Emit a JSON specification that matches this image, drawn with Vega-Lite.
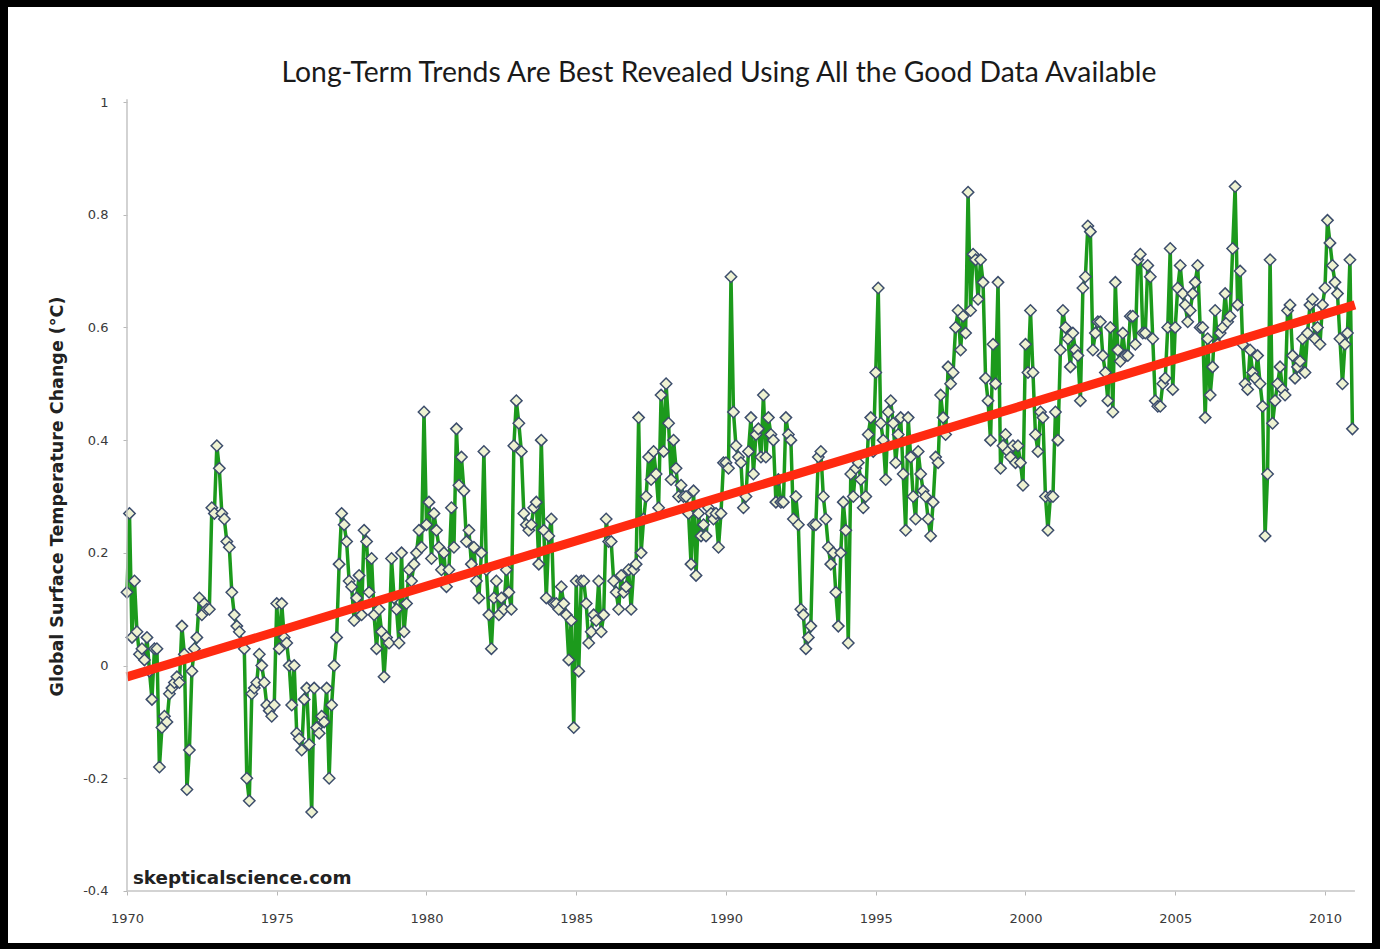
{
  "$schema": "https://vega.github.io/schema/vega-lite/v6.json",
  "width": 1364,
  "height": 936,
  "autosize": "none",
  "padding": {"left": 8, "top": 7, "right": 8, "bottom": 6},
  "background": "black",
  "config": {"view": {"fill": "white", "stroke": null}, "font": "DejaVu Sans"},
  "title": {
    "text": "Long-Term Trends Are Best Revealed Using All the Good Data Available",
    "font": "Lato", "fontSize": 28.3, "fontWeight": "normal", "color": "#1a1a1a",
    "anchor": "middle", "frame": "group", "baseline": "top", "offset": -81, "dx": 29
  },
  "datasets": {
    "temps": [
      {"t":1970,"v":0.13},{"t":1970.083,"v":0.27},{"t":1970.167,"v":0.05},{"t":1970.25,"v":0.15},{"t":1970.333,"v":0.06},{"t":1970.417,"v":0.02},{"t":1970.5,"v":0.03},{"t":1970.583,"v":0.01},{"t":1970.667,"v":0.05},{"t":1970.75,"v":-0.01},{"t":1970.833,"v":-0.06},{"t":1970.917,"v":0.03},
      {"t":1971,"v":0.03},{"t":1971.083,"v":-0.18},{"t":1971.167,"v":-0.11},{"t":1971.25,"v":-0.09},{"t":1971.333,"v":-0.1},{"t":1971.417,"v":-0.05},{"t":1971.5,"v":-0.04},{"t":1971.583,"v":-0.03},{"t":1971.667,"v":-0.02},{"t":1971.75,"v":-0.03},{"t":1971.833,"v":0.07},{"t":1971.917,"v":0.02},
      {"t":1972,"v":-0.22},{"t":1972.083,"v":-0.15},{"t":1972.167,"v":-0.01},{"t":1972.25,"v":0.03},{"t":1972.333,"v":0.05},{"t":1972.417,"v":0.12},{"t":1972.5,"v":0.09},{"t":1972.583,"v":0.11},{"t":1972.667,"v":0.1},{"t":1972.75,"v":0.1},{"t":1972.833,"v":0.28},{"t":1972.917,"v":0.27},
      {"t":1973,"v":0.39},{"t":1973.083,"v":0.35},{"t":1973.167,"v":0.27},{"t":1973.25,"v":0.26},{"t":1973.333,"v":0.22},{"t":1973.417,"v":0.21},{"t":1973.5,"v":0.13},{"t":1973.583,"v":0.09},{"t":1973.667,"v":0.07},{"t":1973.75,"v":0.06},{"t":1973.833,"v":0.04},{"t":1973.917,"v":0.03},
      {"t":1974,"v":-0.2},{"t":1974.083,"v":-0.24},{"t":1974.167,"v":-0.05},{"t":1974.25,"v":-0.04},{"t":1974.333,"v":-0.03},{"t":1974.417,"v":0.02},{"t":1974.5,"v":0.0},{"t":1974.583,"v":-0.03},{"t":1974.667,"v":-0.07},{"t":1974.75,"v":-0.08},{"t":1974.833,"v":-0.09},{"t":1974.917,"v":-0.07},
      {"t":1975,"v":0.11},{"t":1975.083,"v":0.03},{"t":1975.167,"v":0.11},{"t":1975.25,"v":0.05},{"t":1975.333,"v":0.04},{"t":1975.417,"v":0.0},{"t":1975.5,"v":-0.07},{"t":1975.583,"v":0.0},{"t":1975.667,"v":-0.12},{"t":1975.75,"v":-0.13},{"t":1975.833,"v":-0.15},{"t":1975.917,"v":-0.06},
      {"t":1976,"v":-0.04},{"t":1976.083,"v":-0.14},{"t":1976.167,"v":-0.26},{"t":1976.25,"v":-0.04},{"t":1976.333,"v":-0.11},{"t":1976.417,"v":-0.12},{"t":1976.5,"v":-0.09},{"t":1976.583,"v":-0.1},{"t":1976.667,"v":-0.04},{"t":1976.75,"v":-0.2},{"t":1976.833,"v":-0.07},{"t":1976.917,"v":0.0},
      {"t":1977,"v":0.05},{"t":1977.083,"v":0.18},{"t":1977.167,"v":0.27},{"t":1977.25,"v":0.25},{"t":1977.333,"v":0.22},{"t":1977.417,"v":0.15},{"t":1977.5,"v":0.14},{"t":1977.583,"v":0.08},{"t":1977.667,"v":0.12},{"t":1977.75,"v":0.16},{"t":1977.833,"v":0.09},{"t":1977.917,"v":0.24},
      {"t":1978,"v":0.22},{"t":1978.083,"v":0.13},{"t":1978.167,"v":0.19},{"t":1978.25,"v":0.09},{"t":1978.333,"v":0.03},{"t":1978.417,"v":0.1},{"t":1978.5,"v":0.06},{"t":1978.583,"v":-0.02},{"t":1978.667,"v":0.05},{"t":1978.75,"v":0.04},{"t":1978.833,"v":0.19},{"t":1978.917,"v":0.12},
      {"t":1979,"v":0.1},{"t":1979.083,"v":0.04},{"t":1979.167,"v":0.2},{"t":1979.25,"v":0.06},{"t":1979.333,"v":0.11},{"t":1979.417,"v":0.17},{"t":1979.5,"v":0.15},{"t":1979.583,"v":0.18},{"t":1979.667,"v":0.2},{"t":1979.75,"v":0.24},{"t":1979.833,"v":0.21},{"t":1979.917,"v":0.45},
      {"t":1980,"v":0.25},{"t":1980.083,"v":0.29},{"t":1980.167,"v":0.19},{"t":1980.25,"v":0.27},{"t":1980.333,"v":0.24},{"t":1980.417,"v":0.21},{"t":1980.5,"v":0.17},{"t":1980.583,"v":0.2},{"t":1980.667,"v":0.14},{"t":1980.75,"v":0.17},{"t":1980.833,"v":0.28},{"t":1980.917,"v":0.21},
      {"t":1981,"v":0.42},{"t":1981.083,"v":0.32},{"t":1981.167,"v":0.37},{"t":1981.25,"v":0.31},{"t":1981.333,"v":0.22},{"t":1981.417,"v":0.24},{"t":1981.5,"v":0.18},{"t":1981.583,"v":0.21},{"t":1981.667,"v":0.15},{"t":1981.75,"v":0.12},{"t":1981.833,"v":0.2},{"t":1981.917,"v":0.38},
      {"t":1982,"v":0.17},{"t":1982.083,"v":0.09},{"t":1982.167,"v":0.03},{"t":1982.25,"v":0.12},{"t":1982.333,"v":0.15},{"t":1982.417,"v":0.09},{"t":1982.5,"v":0.12},{"t":1982.583,"v":0.1},{"t":1982.667,"v":0.17},{"t":1982.75,"v":0.13},{"t":1982.833,"v":0.1},{"t":1982.917,"v":0.39},
      {"t":1983,"v":0.47},{"t":1983.083,"v":0.43},{"t":1983.167,"v":0.38},{"t":1983.25,"v":0.27},{"t":1983.333,"v":0.25},{"t":1983.417,"v":0.24},{"t":1983.5,"v":0.25},{"t":1983.583,"v":0.28},{"t":1983.667,"v":0.29},{"t":1983.75,"v":0.18},{"t":1983.833,"v":0.4},{"t":1983.917,"v":0.24},
      {"t":1984,"v":0.12},{"t":1984.083,"v":0.23},{"t":1984.167,"v":0.26},{"t":1984.25,"v":0.11},{"t":1984.333,"v":0.11},{"t":1984.417,"v":0.1},{"t":1984.5,"v":0.14},{"t":1984.583,"v":0.11},{"t":1984.667,"v":0.09},{"t":1984.75,"v":0.01},{"t":1984.833,"v":0.08},{"t":1984.917,"v":-0.11},
      {"t":1985,"v":0.15},{"t":1985.083,"v":-0.01},{"t":1985.167,"v":0.15},{"t":1985.25,"v":0.15},{"t":1985.333,"v":0.11},{"t":1985.417,"v":0.04},{"t":1985.5,"v":0.06},{"t":1985.583,"v":0.09},{"t":1985.667,"v":0.08},{"t":1985.75,"v":0.15},{"t":1985.833,"v":0.06},{"t":1985.917,"v":0.09},
      {"t":1986,"v":0.26},{"t":1986.083,"v":0.22},{"t":1986.167,"v":0.22},{"t":1986.25,"v":0.15},{"t":1986.333,"v":0.13},{"t":1986.417,"v":0.1},{"t":1986.5,"v":0.16},{"t":1986.583,"v":0.13},{"t":1986.667,"v":0.14},{"t":1986.75,"v":0.17},{"t":1986.833,"v":0.1},{"t":1986.917,"v":0.17},
      {"t":1987,"v":0.18},{"t":1987.083,"v":0.44},{"t":1987.167,"v":0.2},{"t":1987.25,"v":0.26},{"t":1987.333,"v":0.3},{"t":1987.417,"v":0.37},{"t":1987.5,"v":0.33},{"t":1987.583,"v":0.38},{"t":1987.667,"v":0.34},{"t":1987.75,"v":0.28},{"t":1987.833,"v":0.48},{"t":1987.917,"v":0.38},
      {"t":1988,"v":0.5},{"t":1988.083,"v":0.43},{"t":1988.167,"v":0.33},{"t":1988.25,"v":0.4},{"t":1988.333,"v":0.35},{"t":1988.417,"v":0.3},{"t":1988.5,"v":0.32},{"t":1988.583,"v":0.3},{"t":1988.667,"v":0.3},{"t":1988.75,"v":0.27},{"t":1988.833,"v":0.18},{"t":1988.917,"v":0.31},
      {"t":1989,"v":0.16},{"t":1989.083,"v":0.27},{"t":1989.167,"v":0.23},{"t":1989.25,"v":0.25},{"t":1989.333,"v":0.23},{"t":1989.417,"v":0.28},{"t":1989.5,"v":0.27},{"t":1989.583,"v":0.26},{"t":1989.667,"v":0.27},{"t":1989.75,"v":0.21},{"t":1989.833,"v":0.27},{"t":1989.917,"v":0.36},
      {"t":1990,"v":0.36},{"t":1990.083,"v":0.35},{"t":1990.167,"v":0.69},{"t":1990.25,"v":0.45},{"t":1990.333,"v":0.39},{"t":1990.417,"v":0.37},{"t":1990.5,"v":0.36},{"t":1990.583,"v":0.28},{"t":1990.667,"v":0.3},{"t":1990.75,"v":0.38},{"t":1990.833,"v":0.44},{"t":1990.917,"v":0.34},
      {"t":1991,"v":0.41},{"t":1991.083,"v":0.42},{"t":1991.167,"v":0.37},{"t":1991.25,"v":0.48},{"t":1991.333,"v":0.37},{"t":1991.417,"v":0.44},{"t":1991.5,"v":0.41},{"t":1991.583,"v":0.4},{"t":1991.667,"v":0.29},{"t":1991.75,"v":0.33},{"t":1991.833,"v":0.29},{"t":1991.917,"v":0.29},
      {"t":1992,"v":0.44},{"t":1992.083,"v":0.41},{"t":1992.167,"v":0.4},{"t":1992.25,"v":0.26},{"t":1992.333,"v":0.3},{"t":1992.417,"v":0.25},{"t":1992.5,"v":0.1},{"t":1992.583,"v":0.09},{"t":1992.667,"v":0.03},{"t":1992.75,"v":0.05},{"t":1992.833,"v":0.07},{"t":1992.917,"v":0.25},
      {"t":1993,"v":0.25},{"t":1993.083,"v":0.37},{"t":1993.167,"v":0.38},{"t":1993.25,"v":0.3},{"t":1993.333,"v":0.26},{"t":1993.417,"v":0.21},{"t":1993.5,"v":0.18},{"t":1993.583,"v":0.2},{"t":1993.667,"v":0.13},{"t":1993.75,"v":0.07},{"t":1993.833,"v":0.2},{"t":1993.917,"v":0.29},
      {"t":1994,"v":0.24},{"t":1994.083,"v":0.04},{"t":1994.167,"v":0.34},{"t":1994.25,"v":0.3},{"t":1994.333,"v":0.35},{"t":1994.417,"v":0.36},{"t":1994.5,"v":0.33},{"t":1994.583,"v":0.28},{"t":1994.667,"v":0.3},{"t":1994.75,"v":0.41},{"t":1994.833,"v":0.44},{"t":1994.917,"v":0.38},
      {"t":1995,"v":0.52},{"t":1995.083,"v":0.67},{"t":1995.167,"v":0.43},{"t":1995.25,"v":0.4},{"t":1995.333,"v":0.33},{"t":1995.417,"v":0.45},{"t":1995.5,"v":0.47},{"t":1995.583,"v":0.43},{"t":1995.667,"v":0.36},{"t":1995.75,"v":0.41},{"t":1995.833,"v":0.44},{"t":1995.917,"v":0.34},
      {"t":1996,"v":0.24},{"t":1996.083,"v":0.44},{"t":1996.167,"v":0.37},{"t":1996.25,"v":0.3},{"t":1996.333,"v":0.26},{"t":1996.417,"v":0.38},{"t":1996.5,"v":0.34},{"t":1996.583,"v":0.31},{"t":1996.667,"v":0.3},{"t":1996.75,"v":0.26},{"t":1996.833,"v":0.23},{"t":1996.917,"v":0.29},
      {"t":1997,"v":0.37},{"t":1997.083,"v":0.36},{"t":1997.167,"v":0.48},{"t":1997.25,"v":0.44},{"t":1997.333,"v":0.41},{"t":1997.417,"v":0.53},{"t":1997.5,"v":0.5},{"t":1997.583,"v":0.52},{"t":1997.667,"v":0.6},{"t":1997.75,"v":0.63},{"t":1997.833,"v":0.56},{"t":1997.917,"v":0.62},
      {"t":1998,"v":0.59},{"t":1998.083,"v":0.84},{"t":1998.167,"v":0.63},{"t":1998.25,"v":0.73},{"t":1998.333,"v":0.72},{"t":1998.417,"v":0.65},{"t":1998.5,"v":0.72},{"t":1998.583,"v":0.68},{"t":1998.667,"v":0.51},{"t":1998.75,"v":0.47},{"t":1998.833,"v":0.4},{"t":1998.917,"v":0.57},
      {"t":1999,"v":0.5},{"t":1999.083,"v":0.68},{"t":1999.167,"v":0.35},{"t":1999.25,"v":0.39},{"t":1999.333,"v":0.41},{"t":1999.417,"v":0.38},{"t":1999.5,"v":0.37},{"t":1999.583,"v":0.39},{"t":1999.667,"v":0.36},{"t":1999.75,"v":0.39},{"t":1999.833,"v":0.36},{"t":1999.917,"v":0.32},
      {"t":2000,"v":0.57},{"t":2000.083,"v":0.52},{"t":2000.167,"v":0.63},{"t":2000.25,"v":0.52},{"t":2000.333,"v":0.41},{"t":2000.417,"v":0.38},{"t":2000.5,"v":0.45},{"t":2000.583,"v":0.44},{"t":2000.667,"v":0.3},{"t":2000.75,"v":0.24},{"t":2000.833,"v":0.3},{"t":2000.917,"v":0.3},
      {"t":2001,"v":0.45},{"t":2001.083,"v":0.4},{"t":2001.167,"v":0.56},{"t":2001.25,"v":0.63},{"t":2001.333,"v":0.6},{"t":2001.417,"v":0.58},{"t":2001.5,"v":0.53},{"t":2001.583,"v":0.59},{"t":2001.667,"v":0.56},{"t":2001.75,"v":0.55},{"t":2001.833,"v":0.47},{"t":2001.917,"v":0.67},
      {"t":2002,"v":0.69},{"t":2002.083,"v":0.78},{"t":2002.167,"v":0.77},{"t":2002.25,"v":0.56},{"t":2002.333,"v":0.59},{"t":2002.417,"v":0.61},{"t":2002.5,"v":0.61},{"t":2002.583,"v":0.55},{"t":2002.667,"v":0.52},{"t":2002.75,"v":0.47},{"t":2002.833,"v":0.6},{"t":2002.917,"v":0.45},
      {"t":2003,"v":0.68},{"t":2003.083,"v":0.56},{"t":2003.167,"v":0.54},{"t":2003.25,"v":0.59},{"t":2003.333,"v":0.55},{"t":2003.417,"v":0.55},{"t":2003.5,"v":0.62},{"t":2003.583,"v":0.62},{"t":2003.667,"v":0.57},{"t":2003.75,"v":0.72},{"t":2003.833,"v":0.73},{"t":2003.917,"v":0.59},
      {"t":2004,"v":0.59},{"t":2004.083,"v":0.71},{"t":2004.167,"v":0.69},{"t":2004.25,"v":0.58},{"t":2004.333,"v":0.47},{"t":2004.417,"v":0.46},{"t":2004.5,"v":0.46},{"t":2004.583,"v":0.5},{"t":2004.667,"v":0.51},{"t":2004.75,"v":0.6},{"t":2004.833,"v":0.74},{"t":2004.917,"v":0.49},
      {"t":2005,"v":0.6},{"t":2005.083,"v":0.67},{"t":2005.167,"v":0.71},{"t":2005.25,"v":0.66},{"t":2005.333,"v":0.64},{"t":2005.417,"v":0.61},{"t":2005.5,"v":0.63},{"t":2005.583,"v":0.66},{"t":2005.667,"v":0.68},{"t":2005.75,"v":0.71},{"t":2005.833,"v":0.6},{"t":2005.917,"v":0.6},
      {"t":2006,"v":0.44},{"t":2006.083,"v":0.58},{"t":2006.167,"v":0.48},{"t":2006.25,"v":0.53},{"t":2006.333,"v":0.63},{"t":2006.417,"v":0.57},{"t":2006.5,"v":0.59},{"t":2006.583,"v":0.6},{"t":2006.667,"v":0.66},{"t":2006.75,"v":0.61},{"t":2006.833,"v":0.62},{"t":2006.917,"v":0.74},
      {"t":2007,"v":0.85},{"t":2007.083,"v":0.64},{"t":2007.167,"v":0.7},{"t":2007.25,"v":0.57},{"t":2007.333,"v":0.5},{"t":2007.417,"v":0.49},{"t":2007.5,"v":0.56},{"t":2007.583,"v":0.52},{"t":2007.667,"v":0.51},{"t":2007.75,"v":0.55},{"t":2007.833,"v":0.5},{"t":2007.917,"v":0.46},
      {"t":2008,"v":0.23},{"t":2008.083,"v":0.34},{"t":2008.167,"v":0.72},{"t":2008.25,"v":0.43},{"t":2008.333,"v":0.47},{"t":2008.417,"v":0.5},{"t":2008.5,"v":0.53},{"t":2008.583,"v":0.49},{"t":2008.667,"v":0.48},{"t":2008.75,"v":0.63},{"t":2008.833,"v":0.64},{"t":2008.917,"v":0.55},
      {"t":2009,"v":0.51},{"t":2009.083,"v":0.53},{"t":2009.167,"v":0.54},{"t":2009.25,"v":0.58},{"t":2009.333,"v":0.52},{"t":2009.417,"v":0.59},{"t":2009.5,"v":0.64},{"t":2009.583,"v":0.65},{"t":2009.667,"v":0.58},{"t":2009.75,"v":0.6},{"t":2009.833,"v":0.57},{"t":2009.917,"v":0.64},
      {"t":2010,"v":0.67},{"t":2010.083,"v":0.79},{"t":2010.167,"v":0.75},{"t":2010.25,"v":0.71},{"t":2010.333,"v":0.68},{"t":2010.417,"v":0.66},{"t":2010.5,"v":0.58},{"t":2010.583,"v":0.5},{"t":2010.667,"v":0.57},{"t":2010.75,"v":0.59},{"t":2010.833,"v":0.72},{"t":2010.917,"v":0.42}
    ],
    "trend": [{"t": 1970, "v": -0.02}, {"t": 2011, "v": 0.64}]
  },
  "layer": [
    {
      "data": {"name": "temps"},
      "mark": {"type": "line", "color": "#1c9a1c", "strokeWidth": 3.5},
      "encoding": {
        "x": {
          "field": "t", "type": "quantitative",
          "scale": {"domain": [1966.027, 2011.57], "nice": false, "zero": false},
          "axis": {
            "values": [1970, 1975, 1980, 1985, 1990, 1995, 2000, 2005, 2010],
            "format": "d", "offset": -52, "domain": false, "grid": false,
            "tickSize": 4, "tickColor": "#b8b8b8", "tickWidth": 1,
            "labelFont": "DejaVu Sans", "labelFontSize": 13, "labelColor": "#3a3a3a",
            "labelPadding": 17, "title": null
          }
        },
        "y": {
          "field": "v", "type": "quantitative",
          "scale": {"domain": [-0.4923, 1.1686], "nice": false, "zero": false},
          "axis": {
            "values": [-0.4, -0.2, 0, 0.2, 0.4, 0.6, 0.8, 1],
            "labelExpr": "'' + datum.value",
            "offset": -119, "domain": false, "grid": false,
            "tickSize": 4, "tickColor": "#b8b8b8", "tickWidth": 1,
            "labelFont": "DejaVu Sans", "labelFontSize": 13, "labelColor": "#3a3a3a",
            "labelPadding": 15,
            "title": "Global Surface Temperature Change (°C)",
            "titleFont": "DejaVu Sans", "titleFontSize": 17.5, "titleFontWeight": "bold",
            "titleColor": "#222222", "titleX": -70, "titleY": 489,
            "titleAngle": 270, "titleBaseline": "middle", "titleAlign": "center"
          }
        }
      }
    },
    {
      "data": {"name": "temps"},
      "mark": {"type": "point", "shape": "diamond", "filled": true, "fill": "#eef2d2", "stroke": "#3c4d6c", "strokeWidth": 1.5, "size": 130, "opacity": 1},
      "encoding": {
        "x": {"field": "t", "type": "quantitative"},
        "y": {"field": "v", "type": "quantitative"}
      }
    },
    {
      "data": {"name": "trend"},
      "mark": {"type": "line", "color": "#ff2a10", "strokeWidth": 9, "strokeCap": "butt"},
      "encoding": {
        "x": {"field": "t", "type": "quantitative"},
        "y": {"field": "v", "type": "quantitative"}
      }
    },
    {
      "data": {"values": [{}]},
      "mark": {"type": "rule", "color": "#c4c4c4", "strokeWidth": 1.5},
      "encoding": {
        "x": {"datum": 1970},
        "x2": {"datum": 2011},
        "y": {"datum": -0.4}
      }
    },
    {
      "data": {"values": [{}]},
      "mark": {"type": "rule", "color": "#c4c4c4", "strokeWidth": 1.5},
      "encoding": {
        "x": {"datum": 1970},
        "y": {"datum": -0.4},
        "y2": {"datum": 1.005}
      }
    },
    {
      "data": {"values": [{}]},
      "mark": {"type": "text", "text": "skepticalscience.com", "font": "DejaVu Sans", "fontWeight": "bold", "fontSize": 18.3, "color": "#222222", "align": "left", "baseline": "alphabetic"},
      "encoding": {
        "x": {"datum": 1970.2},
        "y": {"datum": -0.387}
      }
    }
  ]
}
